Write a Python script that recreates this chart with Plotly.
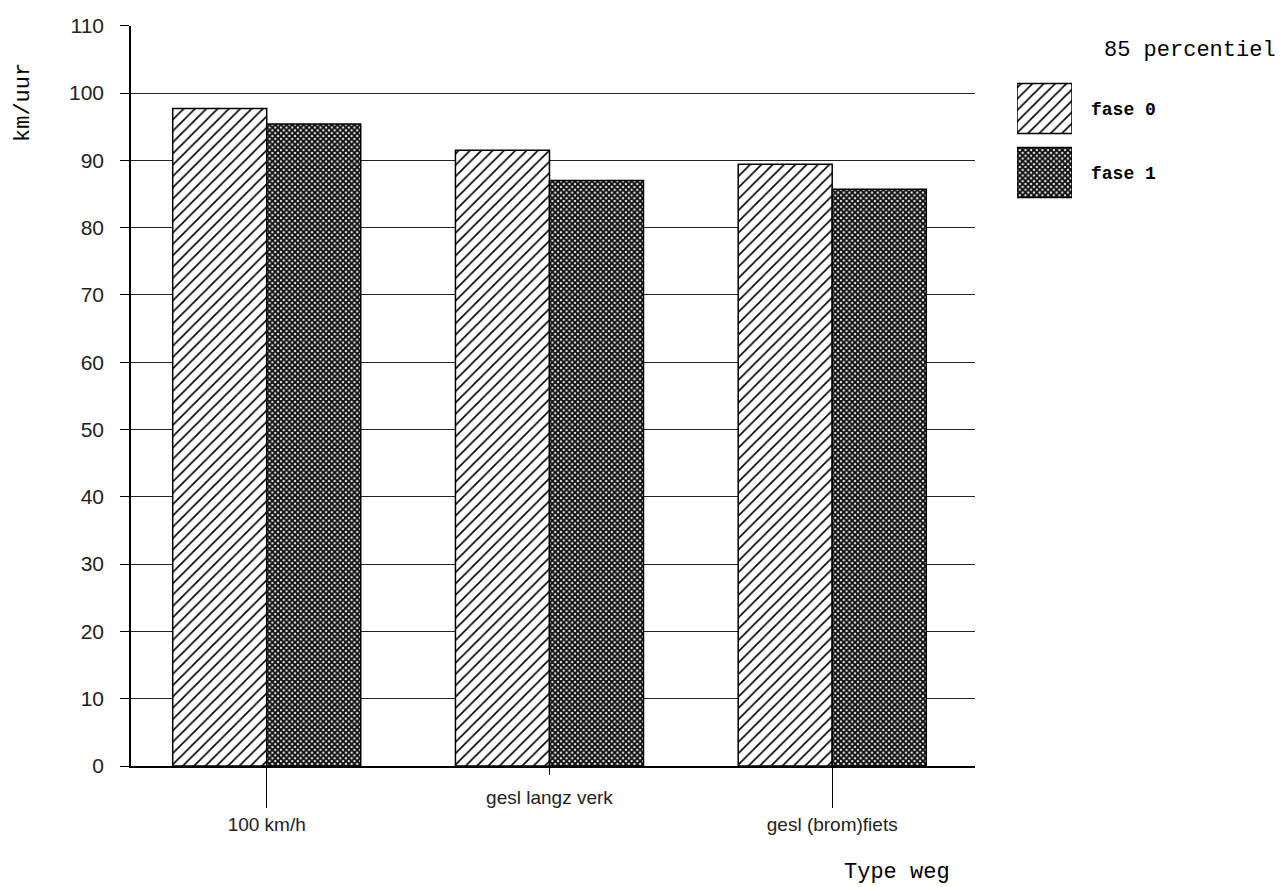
import plotly.graph_objects as go

# ---- data ----
categories = ["100 km/h", "gesl langz verk", "gesl (brom)fiets"]
fase0 = [97.7, 91.5, 89.4]
fase1 = [95.4, 87.0, 85.7]
series_names = ["fase 0", "fase 1"]
y_ticks = list(range(0, 111, 10))
legend_title = "85 percentiel"
y_title = "km/uur"
x_title = "Type weg"
legend_swatch = [1, 1]

# page body has an 8px margin; size the figure so it fills the window
OFF = 8
W, H = 1288 - OFF, 887 - OFF
def px_x(v):
    return (v - OFF) / W
def px_y(v):
    return (H - (v - OFF)) / H

mono = "Liberation Mono, Courier New, monospace"
sans = "Liberation Sans, Arial, sans-serif"

pat0 = dict(shape="/", fgcolor="black", bgcolor="white", size=8, solidity=0.2)
pat1 = dict(shape="x", fgcolor="#111", bgcolor="white", size=4, solidity=0.75)
line = dict(color="black", width=1.5)

fig = go.Figure()
fig.add_trace(go.Bar(x=categories, y=fase0, name=series_names[0],
                     marker=dict(color="white", pattern=pat0, line=line),
                     showlegend=False))
fig.add_trace(go.Bar(x=categories, y=fase1, name=series_names[1],
                     marker=dict(color="white", pattern=pat1, line=line),
                     showlegend=False))
# empty trace so the overlaid category-label axis is drawn
fig.add_trace(go.Scatter(x=[], y=[], xaxis="x3", yaxis="y", showlegend=False,
                         hoverinfo="skip"))

# legend swatches on a hidden small axis
fig.add_trace(go.Bar(x=[legend_swatch[0]], y=[1], orientation="h", width=0.78,
                     marker=dict(color="white", pattern=pat0, line=line),
                     xaxis="x2", yaxis="y2", showlegend=False, hoverinfo="skip"))
fig.add_trace(go.Bar(x=[legend_swatch[1]], y=[0], orientation="h", width=0.78,
                     marker=dict(color="white", pattern=pat1, line=line),
                     xaxis="x2", yaxis="y2", showlegend=False, hoverinfo="skip"))

xr = [-0.48, 2.505]
fig.update_layout(
    template="none",
    width=W, height=H,
    margin=dict(l=0, r=0, t=0, b=0, autoexpand=False),
    paper_bgcolor="white", plot_bgcolor="white",
    barmode="group", bargap=0.335, bargroupgap=0,
    xaxis=dict(domain=[px_x(131), px_x(975)], range=xr, type="category",
               tickvals=[categories[0], categories[2]],
               ticktext=[categories[0], categories[2]],
               ticks="outside", ticklen=40, tickwidth=1.3, tickcolor="black",
               showline=True, linecolor="black", linewidth=1.5,
               showgrid=False, zeroline=False, automargin=False,
               tickfont=dict(family=sans, size=19, color="#222"),
               anchor="y"),
    xaxis3=dict(overlaying="x", anchor="y", type="linear", range=xr,
                tickvals=[1], ticktext=[categories[1]], side="bottom",
                ticks="outside", ticklen=8, tickwidth=1.3, tickcolor="black",
                showline=False, showgrid=False, zeroline=False, automargin=False,
                ticklabelstandoff=6,
                tickfont=dict(family=sans, size=19, color="#222")),
    yaxis=dict(domain=[px_y(766), px_y(25.7)], range=[0, 110],
               tickvals=y_ticks, ticks="outside", ticklen=9, tickwidth=1.2,
               tickcolor="black", showline=True, linecolor="black", linewidth=1.5,
               showgrid=True, gridcolor="#222", gridwidth=1.3, zeroline=False,
               ticklabelstandoff=12, automargin=False,
               tickfont=dict(family=sans, size=21, color="#222"), anchor="x"),
    xaxis2=dict(domain=[px_x(1017), px_x(1072)], range=[0, 1], visible=False,
                anchor="y2", automargin=False),
    yaxis2=dict(domain=[px_y(204.5), px_y(76.5)], range=[-0.5, 1.5],
                tickvals=[1, 0], ticktext=series_names, side="right",
                anchor="x2", ticks="", showline=False, showgrid=False,
                zeroline=False, ticklabelstandoff=18, automargin=False,
                tickfont=dict(family=mono, size=18, color="black", weight="bold")),
    annotations=[
        dict(text=legend_title, xref="paper", yref="paper", x=px_x(1102), y=px_y(50),
             xanchor="left", yanchor="middle", showarrow=False,
             font=dict(family=mono, size=22, color="black")),
        dict(text=x_title, xref="paper", yref="paper", x=px_x(842), y=px_y(872),
             xanchor="left", yanchor="middle", showarrow=False,
             font=dict(family=mono, size=22, color="black")),
        dict(text=y_title, xref="paper", yref="paper", x=px_x(23), y=px_y(103),
             xanchor="center", yanchor="middle", showarrow=False, textangle=-90,
             font=dict(family=mono, size=22, color="black")),
    ],
)

fig.write_html("out.html")
